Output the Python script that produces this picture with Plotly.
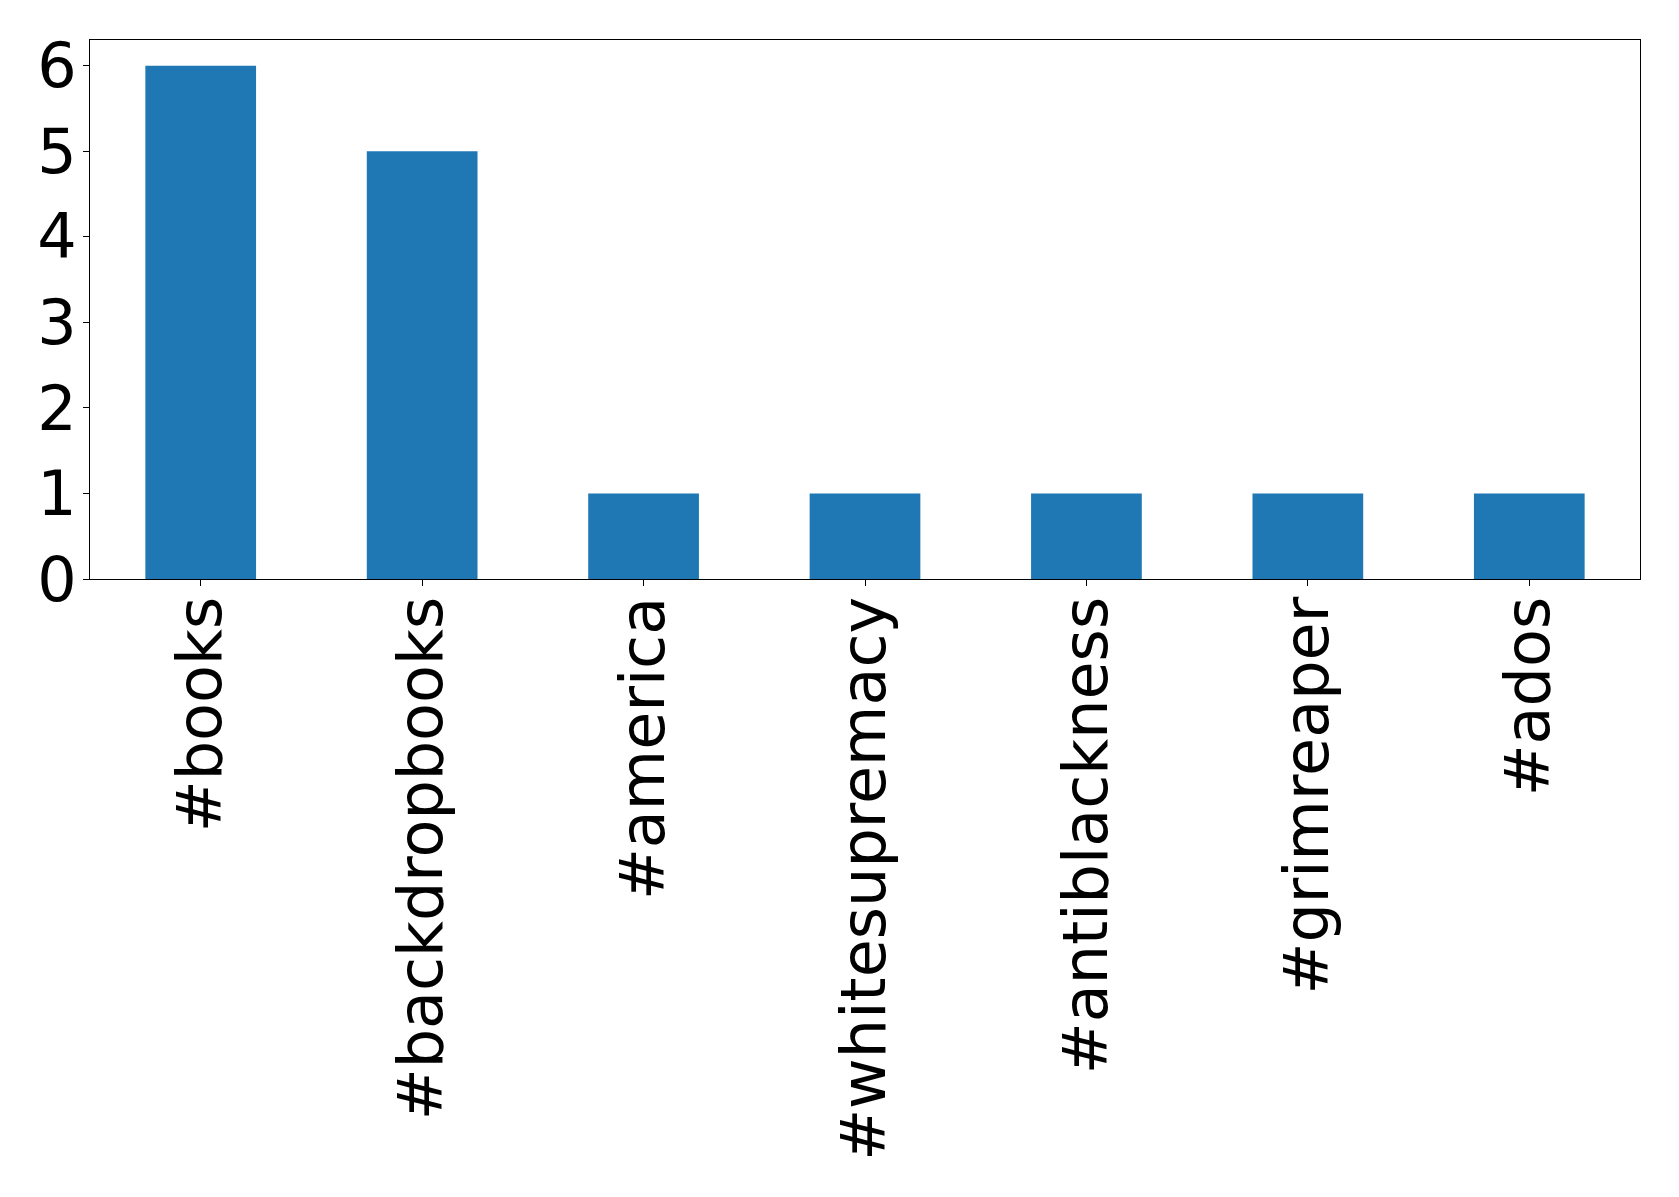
import plotly.graph_objects as go

categories = ["#books", "#backdropbooks", "#america", "#whitesupremacy",
              "#antiblackness", "#grimreaper", "#ados"]
counts = [6, 5, 1, 1, 1, 1, 1]
y_ticks = [0, 1, 2, 3, 4, 5, 6]

fig = go.Figure()
fig.add_trace(go.Bar(
    x=list(range(len(categories))),
    y=counts,
    width=0.5,
    marker=dict(color="#1f77b4", line=dict(width=0)),
))

FONT = "DejaVu Sans"
fig.update_layout(
    width=1679, height=1197,
    margin=dict(l=90, r=39, t=40, b=618, autoexpand=False),
    paper_bgcolor="white", plot_bgcolor="white",
    showlegend=False,
    font=dict(family=FONT, size=64, color="black"),
    xaxis=dict(
        range=[-0.5, len(categories) - 0.5],
        tickmode="array",
        tickvals=list(range(len(categories))),
        ticktext=categories,
        tickangle=-90,
        ticks="outside", ticklen=6, tickwidth=1, tickcolor="black",
        ticklabelstandoff=-14,
        showline=True, linecolor="black", linewidth=1, mirror=True,
        showgrid=False, zeroline=False,
        tickfont=dict(family=FONT, size=62, color="black"),
    ),
    yaxis=dict(
        range=[0, 6.3],
        tickmode="array",
        tickvals=y_ticks,
        ticktext=[str(v) for v in y_ticks],
        ticks="outside", ticklen=6, tickwidth=1, tickcolor="black",
        ticklabelstandoff=-6,
        showline=True, linecolor="black", linewidth=1, mirror=True,
        showgrid=False, zeroline=False,
        tickfont=dict(family=FONT, size=62, color="black"),
    ),
)

fig.write_html("out.html",
               config={"displayModeBar": False},
               post_script="document.body.style.margin='0';document.body.style.padding='0';")
